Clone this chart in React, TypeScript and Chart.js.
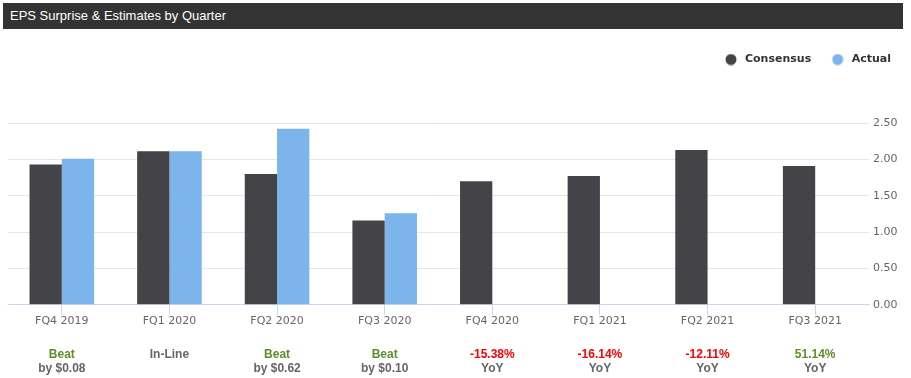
import React, { useEffect, useRef } from 'react';
import { Chart, registerables } from 'chart.js';

Chart.register(...registerables);

const quarters = ['FQ4 2019', 'FQ1 2020', 'FQ2 2020', 'FQ3 2020', 'FQ4 2020', 'FQ1 2021', 'FQ2 2021', 'FQ3 2021'];
const consensus = [1.93, 2.11, 1.8, 1.16, 1.7, 1.77, 2.13, 1.91];
const actual: (number | null)[] = [2.01, 2.11, 2.42, 1.26, null, null, null, null];
const surpriseTop = ['Beat', 'In-Line', 'Beat', 'Beat', '-15.38%', '-16.14%', '-12.11%', '51.14%'];
const surpriseBottom = ['by $0.08', '', 'by $0.62', 'by $0.10', 'YoY', 'YoY', 'YoY', 'YoY'];
const yTicks = [0, 0.5, 1, 1.5, 2, 2.5];

const CONSENSUS_COLOR = '#434348';
const ACTUAL_COLOR = '#7cb5ec';
const GREEN = '#5e8f27';
const RED = '#ff0000';
const GRAY = '#666666';

function toneColor(label: string): string {
  if (label.startsWith('-')) return RED;
  if (label === 'In-Line') return GRAY;
  return GREEN;
}

function makeDot(color: string): HTMLCanvasElement {
  const c = document.createElement('canvas');
  c.width = 12;
  c.height = 12;
  const g = c.getContext('2d')!;
  g.fillStyle = color;
  g.beginPath();
  g.arc(6, 6, 5.5, 0, Math.PI * 2);
  g.fill();
  return c;
}

export default function App() {
  const canvasRef = useRef<HTMLCanvasElement | null>(null);

  useEffect(() => {
    if (!canvasRef.current) return;
    const dots = [makeDot(CONSENSUS_COLOR), makeDot(ACTUAL_COLOR)];

    const legendSpacer = {
      id: 'legendSpacer',
      beforeInit(chart: any) {
        const legend = chart.legend;
        if (!legend) return;
        const orig = legend.fit;
        legend.fit = function () {
          orig.call(this);
          this.height += 48;
        };
      },
    };

    const surpriseNotes = {
      id: 'surpriseNotes',
      afterDraw(chart: any) {
        const { ctx } = chart;
        const x = chart.scales.x;
        ctx.save();
        ctx.font = 'bold 12px "Liberation Sans", Arial, sans-serif';
        ctx.textAlign = 'center';
        ctx.textBaseline = 'alphabetic';
        quarters.forEach((_, i) => {
          const px = x.getPixelForValue(i);
          ctx.fillStyle = toneColor(surpriseTop[i]);
          ctx.fillText(surpriseTop[i], px, 358);
          if (surpriseBottom[i]) {
            ctx.fillStyle = GRAY;
            ctx.fillText(surpriseBottom[i], px, 372);
          }
        });
        ctx.restore();
      },
    };

    const chart = new Chart(canvasRef.current, {
      type: 'bar',
      data: {
        labels: quarters,
        datasets: [
          {
            label: 'Consensus',
            data: consensus,
            backgroundColor: CONSENSUS_COLOR,
            borderWidth: 0,
            categoryPercentage: 0.6,
            barPercentage: 1,
          },
          {
            label: 'Actual',
            data: actual,
            backgroundColor: ACTUAL_COLOR,
            borderWidth: 0,
            categoryPercentage: 0.6,
            barPercentage: 1,
          },
        ],
      },
      options: {
        animation: false,
        responsive: false,
        maintainAspectRatio: false,
        layout: { padding: { top: 36, left: 8, right: 2, bottom: 50 } },
        plugins: {
          tooltip: { enabled: false },
          legend: {
            display: true,
            position: 'top',
            align: 'end',
            labels: {
              usePointStyle: true,
              pointStyleWidth: 17,
              boxHeight: 11,
              padding: 18,
              color: '#333333',
              font: { family: 'DejaVu Sans', size: 11, weight: 'bold' },
              generateLabels: (ch: any) => {
                const items = (Chart.defaults.plugins.legend.labels as any).generateLabels(ch);
                items.forEach((it: any, i: number) => {
                  it.pointStyle = dots[i];
                });
                return items;
              },
            },
          },
        },
        scales: {
          x: {
            offset: true,
            grid: {
              display: true,
              drawOnChartArea: false,
              drawTicks: true,
              offset: false,
              tickLength: 10,
              color: '#ccd6eb',
            },
            border: { display: true, color: '#ccd6eb' },
            ticks: {
              color: GRAY,
              padding: 0,
              maxRotation: 0,
              autoSkip: false,
              font: { family: 'DejaVu Sans', size: 11 },
            },
          },
          y: {
            position: 'right',
            min: 0,
            max: 2.5,
            afterBuildTicks: (scale: any) => {
              scale.ticks = yTicks.map((v) => ({ value: v }));
            },
            afterFit: (scale: any) => {
              scale.width = 40;
            },
            grid: { color: '#e6e6e6', drawTicks: false },
            border: { display: false },
            ticks: {
              color: GRAY,
              padding: 4,
              font: { family: 'DejaVu Sans', size: 11 },
              callback: (v: any) => Number(v).toFixed(2),
            },
          },
        },
      },
      plugins: [legendSpacer, surpriseNotes],
    } as any);

    return () => chart.destroy();
  }, []);

  return (
    <div style={{ position: 'absolute', left: 0, top: 0, width: 911, height: 378, background: '#fff' }}>
      <canvas ref={canvasRef} width={911} height={378} style={{ position: 'absolute', left: 0, top: 0, width: 911, height: 378 }} />
      <div
        style={{
          position: 'absolute',
          left: 3,
          top: 3,
          width: 900,
          height: 26,
          background: '#333333',
          color: '#ffffff',
          fontFamily: '"Liberation Sans", Arial, sans-serif',
          fontSize: 13,
          lineHeight: '26px',
          paddingLeft: 7,
          boxSizing: 'border-box',
          whiteSpace: 'nowrap',
        }}
      >
        EPS Surprise &amp; Estimates by Quarter
      </div>
    </div>
  );
}
